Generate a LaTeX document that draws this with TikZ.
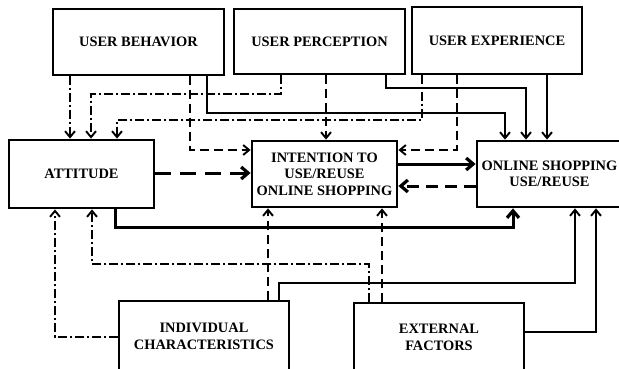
\documentclass[tikz,border=0pt]{standalone}
\usepackage{fontspec}
\setmainfont{Liberation Serif}
\usetikzlibrary{arrows.meta}
\begin{document}
\begin{tikzpicture}[x=1pt,y=-1pt,
  box/.style={draw,rectangle,inner sep=0pt,align=center,font=\fontsize{14.4}{16.5}\selectfont\bfseries},
  topbox/.style={box,line width=1.2pt},
  midbox/.style={box,line width=2.8pt},
  lowbox/.style={box,line width=1.5pt},
  conn/.style={line width=1.9pt},
  thickconn/.style={line width=3pt},
  arr/.style={-{Straight Barb[length=6pt,width=10pt,line width=1.9pt]}},
  bigarr/.style={-{Straight Barb[length=7pt,width=12pt,line width=3.2pt]}},
  dsh/.style={dash pattern=on 9pt off 5pt},
  dshdot/.style={dash pattern=on 9pt off 3pt on 2pt off 3pt},
  bigdsh/.style={dash pattern=on 16pt off 9pt},
  meddsh/.style={dash pattern=on 12pt off 7pt}]
\useasboundingbox (0,0) rectangle (619,369);
\fill[white] (0,0) rectangle (619,369);

\node[topbox,minimum width=171pt,minimum height=66pt] (ub) at (138.5,42) {USER BEHAVIOR};
\node[topbox,minimum width=171pt,minimum height=65pt] (up) at (319.5,41.5) {USER PERCEPTION};
\node[topbox,minimum width=170pt,minimum height=67pt] (ue) at (497,40.5) {USER EXPERIENCE};
\node[midbox,minimum width=145pt,minimum height=68pt] (att) at (81.5,174) {ATTITUDE};
\node[midbox,minimum width=145pt,minimum height=66pt] (int) at (324.5,174) {INTENTION TO\\USE/REUSE\\ONLINE SHOPPING};
\node[midbox,minimum width=145pt,minimum height=66pt] (onl) at (549.5,174) {ONLINE SHOPPING\\USE/REUSE};
\node[lowbox,minimum width=170pt,minimum height=71pt] (ic) at (204,336.5) {INDIVIDUAL\\CHARACTERISTICS};
\node[lowbox,minimum width=170pt,minimum height=69pt] (ef) at (439,337.5) {EXTERNAL\\FACTORS};

% from USER BEHAVIOR
\draw[conn,dshdot,arr] (ub.south -| 70,0) -- (att.north -| 70,0);
\draw[conn,dsh,arr] (ub.south -| 190,0) |- (int.west |- 0,150);
\draw[conn,arr] (ub.south -| 207,0) |- (505,113) -- (onl.north -| 505,0);
% from USER PERCEPTION
\draw[conn,dshdot,arr] (up.south -| 281,0) |- (91,94) -- (att.north -| 91,0);
\draw[conn,dsh,arr] (up.south -| 326,0) -- (int.north -| 326,0);
\draw[conn,arr] (up.south -| 386,0) |- (526,88) -- (onl.north -| 526,0);
% from USER EXPERIENCE
\draw[conn,dshdot,arr] (ue.south -| 422,0) |- (117,120) -- (att.north -| 117,0);
\draw[conn,dsh,arr] (ue.south -| 457,0) |- (int.east |- 0,150);
\draw[conn,arr] (ue.south -| 547,0) -- (onl.north -| 547,0);
% middle row
\draw[thickconn,bigdsh,bigarr] (att.east |- 0,173) -- (int.west |- 0,173);
\draw[thickconn,bigarr] (int.east |- 0,164) -- (onl.west |- 0,164);
\draw[thickconn,meddsh,bigarr] (onl.west |- 0,186) -- (int.east |- 0,186);
\draw[thickconn,bigarr] (att.south -| 115,0) |- (513,227) -- (onl.south -| 513,0);
% from INDIVIDUAL CHARACTERISTICS
\draw[conn,dshdot,arr] (ic.west |- 0,337) -| (att.south -| 55,0);
\draw[conn,dsh,arr] (ic.north -| 268,0) -- (int.south -| 268,0);
\draw[conn,arr] (ic.north -| 279,0) |- (575,283) -- (onl.south -| 575,0);
% from EXTERNAL FACTORS
\draw[conn,dshdot,arr] (ef.north -| 369,0) |- (92,264) -- (att.south -| 92,0);
\draw[conn,dsh,arr] (ef.north -| 382,0) -- (int.south -| 382,0);
\draw[conn,arr] (ef.east |- 0,332) -| (onl.south -| 596,0);
\end{tikzpicture}
\end{document}
